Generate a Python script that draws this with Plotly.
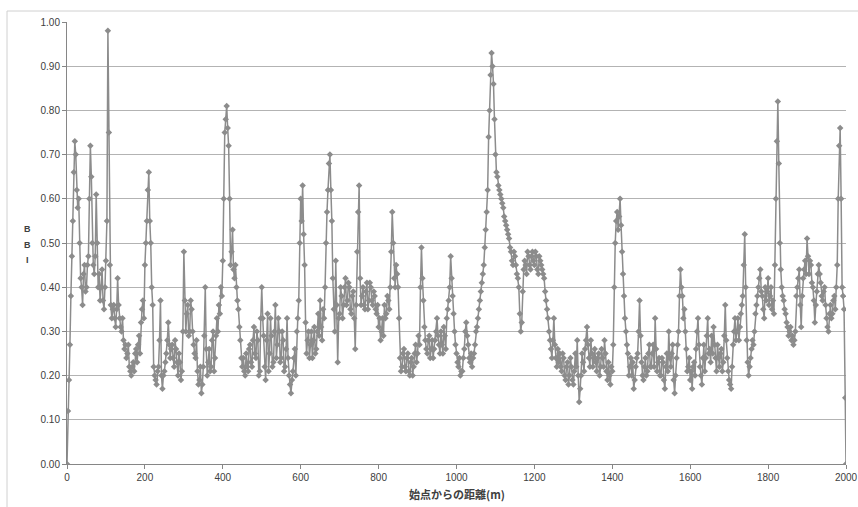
import plotly.graph_objects as go

# BBI readings every 5 m (at 0, 5, 10, ... 1995 m)
bbi = [
    0.00, 0.19, 0.38, 0.55, 0.73, 0.62, 0.60, 0.42, 0.36, 0.45,   # 0-45
    0.40, 0.47, 0.72, 0.50, 0.43, 0.61, 0.40, 0.37, 0.44, 0.35,   # 50-95
    0.46, 0.98, 0.45, 0.33, 0.36, 0.31, 0.42, 0.33, 0.30, 0.28,   # 100-145
    0.27, 0.25, 0.22, 0.20, 0.23, 0.25, 0.23, 0.29, 0.32, 0.37,   # 150-195
    0.45, 0.55, 0.66, 0.50, 0.36, 0.20, 0.18, 0.22, 0.37, 0.17,   # 200-245
    0.21, 0.25, 0.32, 0.24, 0.27, 0.22, 0.26, 0.20, 0.23, 0.21,   # 250-295
    0.48, 0.30, 0.36, 0.30, 0.35, 0.27, 0.24, 0.21, 0.19, 0.16,   # 300-345
    0.22, 0.40, 0.20, 0.26, 0.22, 0.30, 0.24, 0.33, 0.36, 0.40,   # 350-395
    0.46, 0.75, 0.81, 0.72, 0.45, 0.53, 0.42, 0.40, 0.35, 0.28,   # 400-445
    0.22, 0.21, 0.25, 0.21, 0.27, 0.22, 0.31, 0.24, 0.28, 0.21,   # 450-495
    0.40, 0.29, 0.19, 0.34, 0.25, 0.29, 0.23, 0.36, 0.27, 0.30,   # 500-545
    0.24, 0.28, 0.22, 0.33, 0.20, 0.16, 0.21, 0.26, 0.30, 0.37,   # 550-595
    0.60, 0.63, 0.45, 0.25, 0.30, 0.27, 0.24, 0.31, 0.26, 0.34,   # 600-645
    0.37, 0.28, 0.33, 0.50, 0.62, 0.70, 0.55, 0.35, 0.46, 0.23,   # 650-695
    0.34, 0.38, 0.36, 0.42, 0.37, 0.40, 0.34, 0.39, 0.26, 0.48,   # 700-745
    0.63, 0.36, 0.40, 0.35, 0.41, 0.37, 0.40, 0.36, 0.38, 0.34,   # 750-795
    0.31, 0.28, 0.33, 0.36, 0.34, 0.37, 0.40, 0.57, 0.42, 0.45,   # 800-845
    0.40, 0.24, 0.22, 0.26, 0.21, 0.25, 0.20, 0.24, 0.22, 0.27,   # 850-895
    0.25, 0.27, 0.49, 0.37, 0.28, 0.25, 0.29, 0.26, 0.24, 0.28,   # 900-945
    0.33, 0.27, 0.30, 0.25, 0.29, 0.33, 0.37, 0.47, 0.38, 0.30,   # 950-995
    0.25, 0.22, 0.20, 0.21, 0.26, 0.32, 0.27, 0.23, 0.22, 0.25,   # 1000-1045
    0.30, 0.33, 0.37, 0.41, 0.45, 0.53, 0.62, 0.80, 0.93, 0.86,   # 1050-1095
    0.70, 0.65, 0.62, 0.60, 0.58, 0.55, 0.53, 0.51, 0.48, 0.45,   # 1100-1145
    0.47, 0.43, 0.40, 0.30, 0.39, 0.46, 0.43, 0.47, 0.44, 0.48,   # 1150-1195
    0.45, 0.47, 0.43, 0.46, 0.44, 0.42, 0.37, 0.33, 0.28, 0.24,   # 1200-1245
    0.33, 0.24, 0.26, 0.25, 0.21, 0.24, 0.19, 0.23, 0.20, 0.22,   # 1250-1295
    0.18, 0.25, 0.28, 0.14, 0.20, 0.23, 0.26, 0.31, 0.24, 0.28,   # 1300-1345
    0.22, 0.26, 0.21, 0.25, 0.22, 0.24, 0.28, 0.21, 0.23, 0.18,   # 1350-1395
    0.21, 0.40, 0.55, 0.53, 0.60, 0.48, 0.38, 0.30, 0.25, 0.22,   # 1400-1445
    0.20, 0.17, 0.22, 0.25, 0.37, 0.23, 0.19, 0.24, 0.21, 0.27,   # 1450-1495
    0.22, 0.27, 0.33, 0.21, 0.24, 0.20, 0.23, 0.17, 0.25, 0.30,   # 1500-1545
    0.22, 0.27, 0.16, 0.24, 0.30, 0.44, 0.38, 0.35, 0.26, 0.22,   # 1550-1595
    0.19, 0.17, 0.23, 0.26, 0.33, 0.22, 0.18, 0.27, 0.24, 0.33,   # 1600-1645
    0.26, 0.29, 0.31, 0.24, 0.27, 0.22, 0.26, 0.23, 0.36, 0.24,   # 1650-1695
    0.19, 0.17, 0.27, 0.33, 0.30, 0.28, 0.34, 0.38, 0.52, 0.28,   # 1700-1745
    0.20, 0.24, 0.28, 0.30, 0.36, 0.40, 0.44, 0.38, 0.33, 0.37,   # 1750-1795
    0.42, 0.38, 0.35, 0.34, 0.60, 0.82, 0.50, 0.40, 0.37, 0.34,   # 1800-1845
    0.31, 0.30, 0.28, 0.27, 0.30, 0.40, 0.44, 0.31, 0.42, 0.46,   # 1850-1895
    0.51, 0.43, 0.45, 0.40, 0.32, 0.39, 0.45, 0.41, 0.37, 0.40,   # 1900-1945
    0.33, 0.30, 0.36, 0.34, 0.38, 0.40, 0.60, 0.76, 0.40, 0.35,   # 1950-1995
]

# BBI readings half-way between them (at 2.5, 7.5, ... 1992.5 m)
bbi_mid = [
    0.12, 0.27, 0.47, 0.66, 0.70, 0.58, 0.50, 0.40, 0.43, 0.39,   # 2.5-47.5
    0.45, 0.60, 0.65, 0.45, 0.47, 0.50, 0.43, 0.40, 0.37, 0.40,
    0.55, 0.75, 0.36, 0.35, 0.33, 0.35, 0.36, 0.31, 0.33, 0.26,
    0.24, 0.27, 0.21, 0.22, 0.21, 0.26, 0.27, 0.25, 0.35, 0.33,
    0.50, 0.62, 0.55, 0.40, 0.22, 0.19, 0.21, 0.28, 0.20, 0.20,
    0.23, 0.28, 0.27, 0.26, 0.24, 0.28, 0.23, 0.25, 0.19, 0.30,
    0.37, 0.34, 0.29, 0.37, 0.30, 0.25, 0.28, 0.18, 0.22, 0.18,
    0.29, 0.26, 0.23, 0.21, 0.28, 0.21, 0.29, 0.30, 0.34, 0.38,
    0.60, 0.78, 0.76, 0.60, 0.48, 0.44, 0.45, 0.37, 0.31, 0.24,
    0.24, 0.20, 0.22, 0.26, 0.23, 0.28, 0.25, 0.30, 0.20, 0.33,
    0.33, 0.22, 0.28, 0.21, 0.33, 0.22, 0.30, 0.24, 0.33, 0.23,
    0.30, 0.21, 0.26, 0.24, 0.18, 0.19, 0.24, 0.20, 0.33, 0.50,
    0.55, 0.52, 0.32, 0.28, 0.24, 0.30, 0.28, 0.25, 0.30, 0.29,
    0.31, 0.35, 0.40, 0.57, 0.68, 0.62, 0.42, 0.30, 0.36, 0.33,
    0.40, 0.33, 0.40, 0.36, 0.41, 0.35, 0.38, 0.33, 0.36, 0.57,
    0.42, 0.38, 0.36, 0.39, 0.35, 0.41, 0.37, 0.39, 0.35, 0.36,
    0.33, 0.30, 0.29, 0.33, 0.38, 0.35, 0.48, 0.50, 0.40, 0.43,
    0.33, 0.21, 0.25, 0.22, 0.24, 0.21, 0.23, 0.20, 0.25, 0.23,
    0.29, 0.40, 0.42, 0.31, 0.26, 0.28, 0.24, 0.28, 0.26, 0.30,
    0.29, 0.25, 0.27, 0.31, 0.26, 0.35, 0.40, 0.42, 0.34, 0.27,
    0.23, 0.24, 0.21, 0.24, 0.30, 0.29, 0.24, 0.25, 0.24, 0.27,
    0.31, 0.35, 0.39, 0.43, 0.49, 0.57, 0.74, 0.88, 0.90, 0.78,
    0.66, 0.63, 0.61, 0.59, 0.56, 0.54, 0.52, 0.49, 0.46, 0.48,
    0.45, 0.42, 0.34, 0.32, 0.44, 0.45, 0.48, 0.45, 0.47, 0.46,
    0.48, 0.44, 0.47, 0.45, 0.43, 0.39, 0.35, 0.30, 0.26, 0.28,
    0.27, 0.22, 0.23, 0.22, 0.25, 0.20, 0.22, 0.18, 0.24, 0.19,
    0.21, 0.22, 0.20, 0.17, 0.25, 0.21, 0.28, 0.27, 0.22, 0.25,
    0.24, 0.23, 0.24, 0.20, 0.26, 0.22, 0.25, 0.19, 0.20, 0.22,
    0.27, 0.50, 0.57, 0.56, 0.54, 0.43, 0.33, 0.27, 0.20, 0.24,
    0.23, 0.19, 0.24, 0.30, 0.29, 0.20, 0.22, 0.20, 0.25, 0.22,
    0.25, 0.22, 0.26, 0.23, 0.20, 0.24, 0.19, 0.22, 0.21, 0.24,
    0.25, 0.19, 0.20, 0.27, 0.38, 0.40, 0.33, 0.30, 0.21, 0.24,
    0.21, 0.22, 0.20, 0.30, 0.27, 0.20, 0.24, 0.21, 0.29, 0.25,
    0.23, 0.25, 0.27, 0.21, 0.24, 0.25, 0.21, 0.29, 0.28, 0.21,
    0.18, 0.22, 0.30, 0.28, 0.33, 0.31, 0.36, 0.45, 0.40, 0.23,
    0.22, 0.26, 0.27, 0.34, 0.38, 0.42, 0.39, 0.35, 0.40, 0.39,
    0.36, 0.40, 0.37, 0.45, 0.73, 0.68, 0.44, 0.38, 0.35, 0.32,
    0.29, 0.31, 0.29, 0.28, 0.38, 0.42, 0.36, 0.38, 0.44, 0.43,
    0.47, 0.46, 0.41, 0.37, 0.36, 0.43, 0.43, 0.38, 0.39, 0.36,
    0.31, 0.34, 0.33, 0.37, 0.35, 0.45, 0.72, 0.60, 0.38,         # 1952.5-1992.5
]

# final readings near the end point
end_distances = [1998, 2000]
end_bbi = [0.15, 0.00]

step = 5
distances, values = [], []
for i, v in enumerate(bbi):
    distances.append(i * step)
    values.append(v)
    if i < len(bbi_mid):
        distances.append(i * step + step / 2)
        values.append(bbi_mid[i])
distances += end_distances
values += end_bbi

x_ticks = [0, 200, 400, 600, 800, 1000, 1200, 1400, 1600, 1800, 2000]
y_ticks = [0.0, 0.1, 0.2, 0.3, 0.4, 0.5, 0.6, 0.7, 0.8, 0.9, 1.0]
y_title_letters = ["B", "B", "I"]

GRAY = "#8c8c8c"

fig = go.Figure()
fig.add_trace(go.Scatter(
    x=distances, y=values, mode="lines+markers",
    line=dict(color=GRAY, width=1.5),
    marker=dict(symbol="diamond", size=5, color=GRAY),
    showlegend=False, hoverinfo="x+y",
))

tick_font = dict(family="Liberation Sans, Arial, sans-serif", size=10, color="#404040")

# figure fills the whole window (body margin removed by post_script)
W, H = 858, 507
L, R, T, B = 67, 12, 22, 43
PW, PH = W - L - R, H - T - B

def px(xp):
    return (xp - L) / PW

def py(yp):
    return (H - B - yp) / PH

annotations = [
    dict(text="<b>始点からの距離(m)</b>", xref="paper", yref="paper",
         x=0.5, y=py(494), xanchor="center", yanchor="middle",
         showarrow=False,
         font=dict(family="Noto Sans CJK JP", size=11, color="#404040")),
]
for k, letter in enumerate(y_title_letters):
    annotations.append(dict(
        text=f"<b>{letter}</b>", xref="paper", yref="paper",
        x=px(27), y=py(229 + 15.5 * k), xanchor="center", yanchor="middle",
        showarrow=False,
        font=dict(family="Liberation Sans, Arial, sans-serif", size=9, color="#404040")))

fig.update_layout(
    width=W, height=H,
    margin=dict(l=L, r=R, t=T, b=B, autoexpand=False),
    paper_bgcolor="white", plot_bgcolor="white",
    xaxis=dict(
        range=[0, 2000], tickvals=x_ticks, ticktext=[str(v) for v in x_ticks],
        showgrid=False, zeroline=False, automargin=False,
        ticklabeloverflow="allow",
        showline=True, linecolor="#868686", linewidth=1,
        ticks="outside", ticklen=4, tickcolor="#868686",
        tickfont=tick_font,
    ),
    yaxis=dict(
        range=[0, 1.0], tickvals=y_ticks, ticktext=[f"{v:.2f}" for v in y_ticks],
        showgrid=True, gridcolor="#b3b3b3", gridwidth=1, zeroline=False,
        automargin=False,
        showline=True, linecolor="#868686", linewidth=1,
        ticks="outside", ticklen=4, tickcolor="#868686",
        tickfont=tick_font,
    ),
    annotations=annotations,
    shapes=[
        dict(type="line", xref="paper", yref="paper",
             x0=px(7), x1=px(W), y0=py(11), y1=py(11),
             line=dict(color="#d0d0d0", width=1)),
        dict(type="line", xref="paper", yref="paper",
             x0=px(7), x1=px(7), y0=py(11), y1=py(H),
             line=dict(color="#d0d0d0", width=1)),
    ],
)

fig.write_html(
    "out.html",
    config={"displayModeBar": False},
    post_script="document.body.style.margin='0';"
                "document.documentElement.style.overflow='hidden';",
)
